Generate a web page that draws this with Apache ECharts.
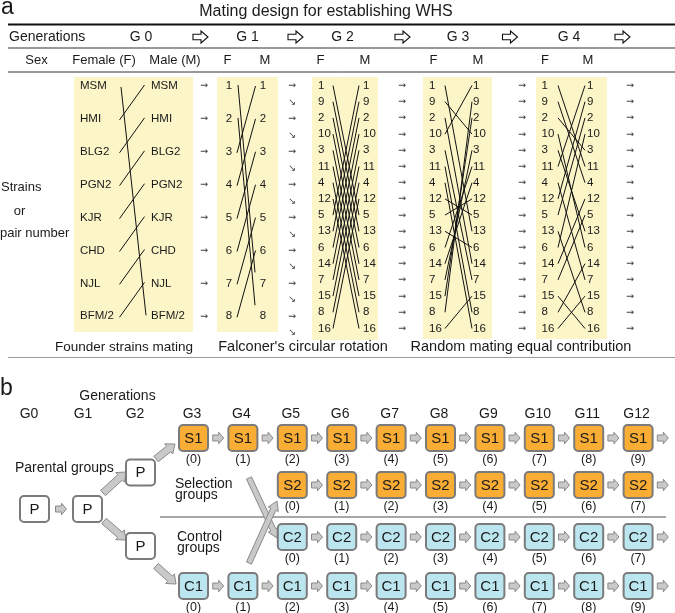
<!DOCTYPE html>
<html><head><meta charset="utf-8">
<script src="https://cdn.jsdelivr.net/npm/echarts@6/dist/echarts.min.js"></script>
<style>html,body{margin:0;padding:0;background:#fff}#c{width:675px;height:613px}</style>
</head><body><div id="c"></div>
<script>
// ================= DATA =================
const titleA = 'Mating design for establishing WHS';
const genLabelsA = ['G 0', 'G 1', 'G 2', 'G 3', 'G 4'];
const sexLabels = ['Female (F)', 'Male (M)', 'F', 'M', 'F', 'M', 'F', 'M', 'F', 'M'];
const strains = ['MSM', 'HMI', 'BLG2', 'PGN2', 'KJR', 'CHD', 'NJL', 'BFM/2'];
const g1Pairs = ['1', '2', '3', '4', '5', '6', '7', '8'];
const g2Pairs = ['1', '9', '2', '10', '3', '11', '4', '12', '5', '13', '6', '14', '7', '15', '8', '16'];
// female row index -> male row index (mating lines)
const g0Mates = [7, 0, 1, 2, 3, 4, 5, 6];
const g1Mates = [6, 7, 0, 1, 2, 3, 4, 5];
const g2Mates = [8, 9, 10, 11, 12, 13, 14, 15, 0, 1, 2, 3, 4, 5, 6, 7];
const g3Mates = [9, 3, 11, 0, 12, 14, 15, 8, 7, 10, 5, 6, 4, 2, 1, 13];
const g4Mates = [5, 6, 4, 10, 9, 0, 12, 1, 2, 14, 3, 7, 8, 15, 11, 13];
const captionsA = ['Founder strains mating', "Falconer's circular rotation", 'Random mating equal contribution'];
const sideLabel = ['Strains', 'or', 'pair number'];

const genLabelsB = ['G0', 'G1', 'G2', 'G3', 'G4', 'G5', 'G6', 'G7', 'G8', 'G9', 'G10', 'G11', 'G12'];
const s1Gens = [3, 4, 5, 6, 7, 8, 9, 10, 11, 12];
const s1Counts = [0, 1, 2, 3, 4, 5, 6, 7, 8, 9];
const s2Gens = [5, 6, 7, 8, 9, 10, 11, 12];
const s2Counts = [0, 1, 2, 3, 4, 5, 6, 7];
const c2Gens = [5, 6, 7, 8, 9, 10, 11, 12];
const c2Counts = [0, 1, 2, 3, 4, 5, 6, 7];
const c1Gens = [3, 4, 5, 6, 7, 8, 9, 10, 11, 12];
const c1Counts = [0, 1, 2, 3, 4, 5, 6, 7, 8, 9];
const groupTexts = ['Parental groups', 'Selection', 'groups', 'Control', 'groups'];

// ================= LAYOUT / STYLE =================
const FONT = '"Liberation Sans", Arial, Helvetica, sans-serif';
const ARROWFONT = '"DejaVu Sans", sans-serif';
const YEL = '#fcf5c8', ORANGE = '#f9ad35', BLUE = '#bce6ef', BOXLINE = '#7b7b7b';
const texts = [], bgRects = [], segs = [], polys = [], boxes = [];

function T(x, y, text, size, align, opt) {
  texts.push(Object.assign({ x, y, text, size, align: align || 'center', font: FONT, color: '#1a1a1a' }, opt || {}));
}
function L(x1, y1, x2, y2, color, w) { segs.push({ x1, y1, x2, y2, color: color || '#111', w: w || 1 }); }
function hollowArrow(cx, cy) {
  polys.push({ pts: [[cx - 7.5, cy - 2.8], [cx + 0.5, cy - 2.8], [cx + 0.5, cy - 6], [cx + 7.5, cy], [cx + 0.5, cy + 6], [cx + 0.5, cy + 2.8], [cx - 7.5, cy + 2.8]], fill: '#fff', stroke: '#111', w: 1.1 });
}
function smallArrow(cx, cy) {
  polys.push({ pts: [[cx - 5.5, cy - 3], [cx + 0.5, cy - 3], [cx + 0.5, cy - 5.8], [cx + 5.5, cy], [cx + 0.5, cy + 5.8], [cx + 0.5, cy + 3], [cx - 5.5, cy + 3]], fill: '#c9c9c9', stroke: '#8a8a8a', w: 1 });
}
function blockArrow(x1, y1, x2, y2, sw, hw, hl) {
  const dx = x2 - x1, dy = y2 - y1, len = Math.hypot(dx, dy);
  const ux = dx / len, uy = dy / len, nx = -uy, ny = ux;
  const bx = x2 - ux * hl, by = y2 - uy * hl;
  polys.push({ pts: [
    [x1 + nx * sw / 2, y1 + ny * sw / 2], [bx + nx * sw / 2, by + ny * sw / 2], [bx + nx * hw / 2, by + ny * hw / 2],
    [x2, y2],
    [bx - nx * hw / 2, by - ny * hw / 2], [bx - nx * sw / 2, by - ny * sw / 2], [x1 - nx * sw / 2, y1 - ny * sw / 2]
  ], fill: '#c9c9c9', stroke: '#8a8a8a', w: 1 });
}
const ARW = { font: ARROWFONT, color: '#444' };

// ---------- panel a ----------
T(1, 8, 'a', 23, 'left');
T(326, 12, titleA, 16);
L(8, 24.5, 675, 24.5, '#111', 2);
T(9, 37, 'Generations', 14, 'left');
const genAX = [141, 247.5, 342.5, 458, 569];
const hollowX = [200.5, 295.5, 402.5, 510, 622.5];
genLabelsA.forEach((g, i) => T(genAX[i], 37, g, 14));
hollowX.forEach(x => hollowArrow(x, 37));
L(8, 48, 675, 48, '#333', 1);
T(36.5, 60, 'Sex', 13);
const sexX = [104, 175, 227.5, 265, 320.5, 365, 433.5, 478, 545, 588];
sexLabels.forEach((s, i) => T(sexX[i], 60, s, 13));
L(8, 72, 675, 72, '#333', 1);
L(8, 357.5, 675, 357.5, '#9a9a9a', 1);

T(1, 187, sideLabel[0], 13, 'left');
T(19.5, 211, sideLabel[1], 13);
T(0, 233, sideLabel[2], 13, 'left');

// yellow backgrounds
[[74, 77, 193, 332], [217, 77, 278, 332], [312, 77, 378, 340], [423, 77, 492, 339], [536, 77, 607, 339]]
  .forEach(r => bgRects.push({ x: r[0], y: r[1], w: r[2] - r[0], h: r[3] - r[1], fill: YEL }));

const row8 = i => 86 + i * 32.9;
const row16 = k => 85.5 + k * 16.2;
const NUM = 11.5;

// G0
strains.forEach((s, i) => { T(80, row8(i), s, NUM, 'left'); T(151, row8(i), s, NUM, 'left'); T(204, row8(i), '→', 9.5, 'center', ARW); });
g0Mates.forEach((j, i) => L(i === 0 ? 121 : 119.5, row8(i) + 1, i === 0 ? 146 : 144.5, row8(j) - 1));
// G1
g1Pairs.forEach((s, i) => {
  T(229, row8(i), s, NUM); T(263, row8(i), s, NUM);
  T(292, row8(i), '→', 9.5, 'center', ARW);
  T(292, row8(i) + 16.5, '↘', 9.5, 'center', ARW);
});
g1Mates.forEach((j, i) => {
  if (j > i) L(238, row8(i) - 1, 255, row8(j) - 11);
  else L(237, row8(i) + 1, 255.5, row8(j));
});
// G2, G3, G4
function gen16(lx, rx, arrowX, l1, l2, mates) {
  g2Pairs.forEach((s, k) => {
    T(lx, row16(k), s, NUM, 'left'); T(rx, row16(k), s, NUM, 'left');
    T(arrowX, row16(k), '→', 9.5, 'center', ARW);
  });
  mates.forEach((j, k) => L(l1, row16(k), l2, row16(j)));
}
gen16(318, 363, 402, 333, 359, g2Mates);
gen16(429, 473, 522, 445, 472, g3Mates);
gen16(541.5, 587, 630, 558, 585, g4Mates);

T(124, 347, captionsA[0], 13.5);
T(303, 347, captionsA[1], 14.5);
T(521, 347, captionsA[2], 14.5);

// ---------- panel b ----------
T(0, 389, 'b', 23, 'left');
T(117.5, 396, 'Generations', 14);
const labX = n => n <= 2 ? [29, 83, 135][n] : 192 + (n - 3) * 49.4;
const boxX = n => 193.5 + (n - 3) * 49.4;
genLabelsB.forEach((g, n) => T(labX(n), 414, g, 14));

function box(cx, cy, label, fill, sub) {
  boxes.push({ x: cx - 14.5, y: cy - 13, w: 29, h: 26, fill });
  T(cx, cy + 0.5, label, 15);
  if (sub !== undefined) T(cx, cy + 22, '(' + sub + ')', 12.5);
}
function row(gens, counts, cy, label, fill) {
  gens.forEach((g, i) => { box(boxX(g), cy, label, fill, counts[i]); smallArrow(boxX(g) + 24.7, cy); });
}
row(s1Gens, s1Counts, 438, 'S1', ORANGE);
row(s2Gens, s2Counts, 485, 'S2', ORANGE);
row(c2Gens, c2Counts, 537, 'C2', BLUE);
row(c1Gens, c1Counts, 586, 'C1', BLUE);
box(34.5, 509, 'P', '#fff');
box(87.5, 509, 'P', '#fff');
box(140.5, 472.5, 'P', '#fff');
box(140.5, 546, 'P', '#fff');
smallArrow(61, 509);
blockArrow(103, 493, 126, 472, 7, 13, 8);
blockArrow(104, 521, 126, 540, 7, 13, 8);
blockArrow(156, 459, 175, 444, 7, 13, 8);
blockArrow(156, 566, 176, 584, 7, 13, 8);
L(160, 517, 666, 517, '#8a8a8a', 1.5);
blockArrow(249, 478, 277, 538, 5.5, 11, 9);
blockArrow(249, 563, 277, 501, 5.5, 11, 9);

T(15, 468, groupTexts[0], 14, 'left');
T(175, 484, groupTexts[1], 14, 'left');
T(175, 495.5, groupTexts[2], 14, 'left');
T(177, 537, groupTexts[3], 14, 'left');
T(177, 548.5, groupTexts[4], 14, 'left');

// ================= CHART =================
function mk(list, build, z) {
  return {
    type: 'custom', coordinateSystem: 'cartesian2d', silent: true, clip: false, z: z,
    data: list.map(s => [s.x !== undefined ? s.x : (s.x1 !== undefined ? s.x1 : 0), s.y !== undefined ? s.y : (s.y1 !== undefined ? s.y1 : 0)]),
    renderItem: (params, api) => build(list[params.dataIndex], api)
  };
}
const C = (api, x, y) => api.coord([x, y]);
const chart = echarts.init(document.getElementById('c'), null, { renderer: 'canvas' });
chart.setOption({
  animation: false,
  backgroundColor: '#fff',
  grid: { left: 0, right: 0, top: 0, bottom: 0 },
  xAxis: { type: 'value', min: 0, max: 675, show: false },
  yAxis: { type: 'value', min: 0, max: 613, inverse: true, show: false },
  series: [
    mk(bgRects, (r, api) => { const p = C(api, r.x, r.y), q = C(api, r.x + r.w, r.y + r.h);
      return { type: 'rect', shape: { x: p[0], y: p[1], width: q[0] - p[0], height: q[1] - p[1] }, style: { fill: r.fill } }; }, 1),
    mk(segs, (s, api) => { const p = C(api, s.x1, s.y1), q = C(api, s.x2, s.y2);
      return { type: 'line', shape: { x1: p[0], y1: p[1], x2: q[0], y2: q[1] }, style: { stroke: s.color, lineWidth: s.w } }; }, 2),
    mk(polys, (g, api) => ({ type: 'polygon', shape: { points: g.pts.map(pt => C(api, pt[0], pt[1])) }, style: { fill: g.fill, stroke: g.stroke, lineWidth: g.w, lineJoin: 'miter' } }), 3),
    mk(boxes, (r, api) => { const p = C(api, r.x, r.y), q = C(api, r.x + r.w, r.y + r.h);
      return { type: 'rect', shape: { x: p[0], y: p[1], width: q[0] - p[0], height: q[1] - p[1], r: 4 }, style: { fill: r.fill, stroke: BOXLINE, lineWidth: 2 } }; }, 4),
    mk(texts, (t, api) => { const p = C(api, t.x, t.y);
      return { type: 'text', x: p[0], y: p[1], style: { text: t.text, fontSize: t.size, fontFamily: t.font, fill: t.color, align: t.align, verticalAlign: 'middle' } }; }, 5)
  ]
});
</script>
</body></html>
